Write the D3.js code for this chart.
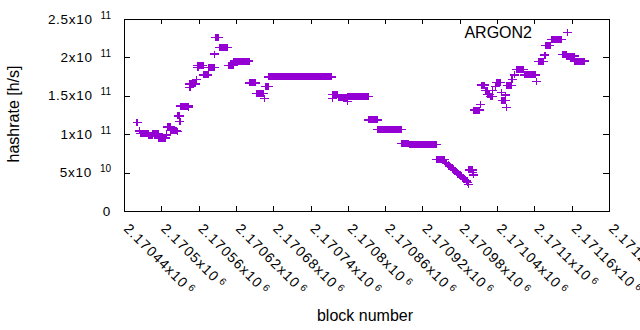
<!DOCTYPE html>
<html>
<head>
<meta charset="utf-8">
<title>ARGON2 hashrate</title>
<script src="https://cdn.jsdelivr.net/npm/d3@7"></script>
<style>
body { margin:0; background:#ffffff; }
text { font-family: "Liberation Sans", Arial, sans-serif; fill:#000000; }
.tick line { stroke:#000000; shape-rendering:crispEdges; }
</style>
</head>
<body>
<svg id="chart" width="640" height="330"></svg>
<script>
// axis ticks and their labels
var xTicks = [2170440, 2170500, 2170560, 2170620, 2170680, 2170740, 2170800,
              2170860, 2170920, 2170980, 2171040, 2171100, 2171160, 2171220];
var xTickText = ["2.17044", "2.1705", "2.17056", "2.17062", "2.17068", "2.17074", "2.1708",
                 "2.17086", "2.17092", "2.17098", "2.17104", "2.1711", "2.17116", "2.17122"];
var xTickExp = "6";
var yTicks = [0, 5e10, 1e11, 1.5e11, 2e11, 2.5e11];
var yTickText = ["0", "5x10", "1x10", "1.5x10", "2x10", "2.5x10"];
var yTickExp = ["", "10", "11", "11", "11", "11"];

var seriesName = "ARGON2";

// stretches of blocks showing the same hashrate: [first block, last block, h/s]
var runs = [
  [2170466, 2170479, 100.9e9], [2170480, 2170485, 97.7e9], [2170486, 2170495, 100.3e9],
  [2170496, 2170507, 95.0e9], [2170510, 2170514, 109.4e9], [2170515, 2170525, 104.8e9],
  [2170527, 2170529, 123.7e9], [2170531, 2170543, 136.7e9], [2170545, 2170555, 165.4e9],
  [2170558, 2170567, 189.4e9], [2170568, 2170575, 177.1e9], [2170576, 2170586, 186.8e9],
  [2170587, 2170592, 225.9e9], [2170593, 2170607, 212.9e9], [2170608, 2170616, 189.4e9],
  [2170617, 2170641, 195.3e9], [2170642, 2170652, 166.7e9], [2170653, 2170664, 153.0e9],
  [2170667, 2170672, 162.0e9], [2170673, 2170774, 174.5e9], [2170776, 2170783, 151.7e9],
  [2170785, 2170798, 147.8e9], [2170800, 2170833, 149.1e9], [2170834, 2170847, 118.5e9],
  [2170848, 2170886, 106.1e9], [2170887, 2170898, 87.9e9], [2170899, 2170942, 86.6e9],
  [2170943, 2170956, 67.1e9], [2170995, 2171000, 53.4e9], [2171003, 2171012, 131.5e9],
  [2171015, 2171019, 164.0e9], [2171021, 2171024, 157.0e9], [2171025, 2171028, 152.0e9],
  [2171029, 2171032, 149.5e9], [2171039, 2171045, 167.3e9], [2171048, 2171054, 143.9e9],
  [2171056, 2171063, 163.4e9], [2171071, 2171082, 184.2e9], [2171084, 2171102, 177.1e9],
  [2171106, 2171115, 194.9e9], [2171118, 2171125, 215.5e9], [2171127, 2171144, 223.6e9],
  [2171145, 2171151, 204.0e9], [2171152, 2171164, 201.8e9], [2171165, 2171180, 195.3e9]
];

// isolated blocks: [block, h/s]
var singles = [
  [2170461, 115.5e9], [2170465, 104.2e9], [2170508, 99.0e9], [2170526, 103.2e9],
  [2170530, 116.3e9], [2170544, 135.0e9], [2170546, 161.1e9], [2170557, 171.5e9],
  [2170559, 186.6e9], [2170585, 204.4e9], [2170666, 146.0e9], [2170775, 147.0e9],
  [2170799, 143.0e9],
  [2170957, 63.1e9], [2170959, 61.8e9], [2170962, 60.5e9], [2170964, 58.6e9],
  [2170966, 56.6e9], [2170969, 54.7e9], [2170971, 52.7e9], [2170974, 50.8e9],
  [2170976, 49.5e9], [2170978, 47.5e9], [2170981, 46.2e9], [2170983, 44.3e9],
  [2170986, 43.0e9], [2170988, 41.0e9], [2170991, 39.1e9], [2170993, 37.1e9],
  [2170994, 34.0e9], [2171001, 49.9e9], [2171002, 47.0e9],
  [2171013, 139.0e9], [2171033, 156.6e9], [2171037, 161.8e9], [2171047, 154.5e9],
  [2171053, 151.0e9], [2171055, 135.0e9], [2171064, 171.5e9], [2171068, 177.1e9],
  [2171104, 168.4e9], [2171117, 203.1e9]
];

var color = "#9400d3";
var plotL = 124, plotR = 609, plotT = 19, plotB = 211;

var svg = d3.select("#chart");
var x = d3.scaleLinear().domain([2170440, 2171220]).range([plotL, plotR]);
var y = d3.scaleLinear().domain([0, 2.5e11]).range([plotB, plotT]);

// tics point inwards on all four sides, like gnuplot's mirrored tics
svg.append("g").attr("transform", "translate(0," + plotB + ")")
  .call(d3.axisBottom(x).tickValues(xTicks).tickSizeInner(-5).tickSizeOuter(0).tickFormat(""));
svg.append("g").attr("transform", "translate(0," + plotT + ")")
  .call(d3.axisTop(x).tickValues(xTicks).tickSizeInner(-5).tickSizeOuter(0).tickFormat(""));
svg.append("g").attr("transform", "translate(" + plotL + ",0)")
  .call(d3.axisLeft(y).tickValues(yTicks).tickSizeInner(-6).tickSizeOuter(0).tickFormat(""));
svg.append("g").attr("transform", "translate(" + plotR + ",0)")
  .call(d3.axisRight(y).tickValues(yTicks).tickSizeInner(-6).tickSizeOuter(0).tickFormat(""));
svg.selectAll(".domain").remove();

svg.append("rect")
  .attr("x", plotL + 0.5).attr("y", plotT + 0.5)
  .attr("width", plotR - plotL).attr("height", plotB - plotT)
  .attr("fill", "none").attr("stroke", "#000").attr("stroke-width", 1)
  .attr("shape-rendering", "crispEdges");

// y tic labels with superscript exponent
var yl = svg.selectAll(".ylab").data(yTicks).enter().append("text")
  .attr("class", "ylab")
  .attr("x", 111)
  .attr("y", function(d) { return y(d) + 4.5; })
  .attr("text-anchor", "end")
  .style("font-size", "13.5px")
  .style("letter-spacing", "0.7px");
yl.append("tspan").text(function(d, i) { return yTickText[i]; });
yl.append("tspan")
  .attr("dx", function(d, i) { return yTickExp[i] ? 8 : 0; })
  .attr("dy", -5)
  .style("font-size", "10px")
  .style("letter-spacing", "0px")
  .text(function(d, i) { return yTickExp[i]; });

// rotated x tic labels
var xl = svg.selectAll(".xlab").data(xTicks).enter().append("text")
  .attr("class", "xlab")
  .attr("transform", function(d) { return "translate(" + (x(d) - 1) + ",229.5) rotate(45)"; })
  .style("font-size", "14px")
  .style("letter-spacing", "1.1px");
xl.append("tspan").text(function(d, i) { return xTickText[i] + "x10"; });
xl.append("tspan")
  .attr("dx", 3).attr("dy", -4)
  .style("font-size", "10px")
  .style("letter-spacing", "0px")
  .text(xTickExp);

// axis titles
svg.append("text")
  .attr("transform", "translate(19," + ((plotT + plotB) / 2 - 1) + ") rotate(-90)")
  .attr("text-anchor", "middle")
  .style("font-size", "16px")
  .text("hashrate [h/s]");
svg.append("text")
  .attr("x", 365).attr("y", 321)
  .attr("text-anchor", "middle")
  .style("font-size", "16px")
  .text("block number");

// data
function plus(px, py) {
  return "M" + (px - 4.5) + "," + py + "H" + (px + 4.5) + "M" + px + "," + (py - 3.5) + "V" + (py + 3.5);
}
var g = svg.append("g").attr("shape-rendering", "crispEdges");
g.selectAll(".run").data(runs).enter().append("rect")
  .attr("class", "run")
  .attr("x", function(d) { return x(d[0]) - 0.6; })
  .attr("width", function(d) { return x(d[1]) - x(d[0]) + 1.2; })
  .attr("y", function(d) { return y(d[2]) - 3.5; })
  .attr("height", 7)
  .attr("fill", color);
g.selectAll(".arm").data(runs).enter().append("path")
  .attr("class", "arm")
  .attr("d", function(d) {
    return "M" + (x(d[0]) - 4.5) + "," + y(d[2]) + "H" + (x(d[1]) + 4.5);
  })
  .attr("stroke", color).attr("stroke-width", 1.2).attr("fill", "none");
g.selectAll(".pt").data(singles).enter().append("path")
  .attr("class", "pt")
  .attr("d", function(d) { return plus(x(d[0]), y(d[1])); })
  .attr("stroke", color).attr("stroke-width", 1.2).attr("fill", "none");

// key
svg.append("text")
  .attr("x", 532).attr("y", 37.5)
  .attr("text-anchor", "end")
  .style("font-size", "16px")
  .text(seriesName);
svg.append("path")
  .attr("d", plus(567.5, 32.5))
  .attr("stroke", color).attr("stroke-width", 1.2).attr("fill", "none")
  .attr("shape-rendering", "crispEdges");
</script>
</body>
</html>
